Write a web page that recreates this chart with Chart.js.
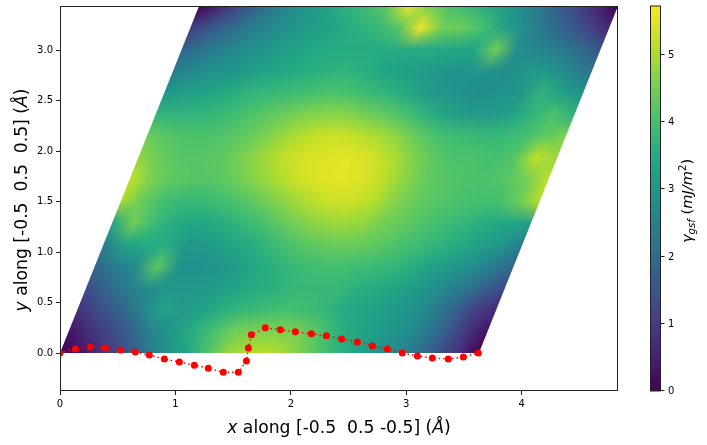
<!DOCTYPE html>
<html>
<head>
<meta charset="utf-8">
<script src="https://cdn.jsdelivr.net/npm/chart.js@4"></script>
<style>
html, body { margin: 0; padding: 0; background: #fff; }
canvas { display: block; }
</style>
</head>
<body>
<canvas id="gsfChart" width="707" height="445"></canvas>
<script>
// path points (x, y in angstrom)
const pathX = [0, 0.133, 0.263, 0.393, 0.523, 0.653, 0.774, 0.904, 1.034, 1.164, 1.285, 1.415, 1.545, 1.615, 1.632, 1.658,
    1.779, 1.909, 2.039, 2.178, 2.308, 2.44, 2.577, 2.707, 2.837, 2.966, 3.097, 3.226, 3.365, 3.495, 3.625];
const pathY = [0, 0.04, 0.06, 0.05, 0.03, 0.01, -0.02, -0.06, -0.09, -0.12, -0.15, -0.19, -0.19, -0.08, 0.05, 0.18,
    0.25, 0.23, 0.21, 0.19, 0.17, 0.14, 0.11, 0.07, 0.04, 0, -0.03, -0.05, -0.06, -0.04, 0];

// cell vectors of the plotted plane
const cellA = 3.63;
const cellBx = 1.205;
const cellBy = 3.436;

// gamma surface, rows go from y=0 up to the top, columns along the a vector
const gammaRows = [
    [0.0, 0.3, 0.9, 1.4, 2.2, 2.9, 3.3, 4.1, 4.8, 5.1, 5.1, 4.8, 4.3, 3.8, 3.4, 3.0, 2.7, 2.2, 1.5, 0.8, 0.0],
    [0.3, 0.8, 1.2, 1.8, 2.6, 3.1, 3.6, 4.1, 4.5, 4.6, 4.6, 4.5, 4.1, 3.6, 3.3, 3.1, 2.9, 2.4, 1.7, 0.9, 0.3],
    [0.8, 1.3, 1.8, 2.5, 3.3, 3.1, 3.3, 3.6, 3.8, 3.9, 4.0, 3.9, 3.7, 3.4, 3.3, 3.1, 2.9, 2.5, 1.8, 1.1, 0.7],
    [1.3, 1.9, 2.4, 2.8, 3.0, 3.0, 3.1, 3.3, 3.5, 3.6, 3.8, 3.8, 3.8, 3.6, 3.5, 3.3, 3.0, 2.7, 2.3, 1.8, 1.3],
    [1.9, 2.4, 2.8, 4.3, 2.9, 2.9, 3.0, 3.2, 3.5, 3.7, 3.9, 4.0, 4.0, 3.9, 3.8, 3.6, 3.3, 3.1, 2.8, 2.4, 1.9],
    [2.4, 3.3, 3.5, 3.5, 3.0, 3.1, 3.3, 3.5, 3.8, 4.1, 4.3, 4.4, 4.4, 4.3, 4.1, 3.9, 3.7, 3.5, 3.2, 3.0, 2.4],
    [3.3, 4.5, 3.9, 3.5, 3.4, 3.5, 3.7, 4.0, 4.3, 4.6, 4.8, 4.9, 4.8, 4.5, 4.3, 4.1, 3.9, 3.7, 3.5, 3.4, 3.2],
    [5.0, 4.4, 4.0, 3.8, 3.8, 4.0, 4.2, 4.5, 4.8, 5.1, 5.3, 5.3, 5.1, 4.7, 4.4, 4.2, 4.1, 4.0, 4.0, 4.4, 5.1],
    [5.2, 4.6, 4.3, 4.2, 4.2, 4.4, 4.7, 5.0, 5.3, 5.45, 5.5, 5.45, 5.2, 4.8, 4.4, 4.2, 4.1, 4.1, 4.2, 4.5, 5.2],
    [4.8, 4.4, 4.2, 4.2, 4.3, 4.6, 4.9, 5.2, 5.4, 5.45, 5.5, 5.4, 5.1, 4.7, 4.3, 4.1, 4.1, 4.0, 4.2, 5.2, 4.8],
    [4.4, 4.2, 4.1, 4.1, 4.2, 4.4, 4.7, 5.0, 5.2, 5.3, 5.2, 5.0, 4.7, 4.3, 4.0, 3.9, 3.8, 3.8, 4.0, 4.3, 4.6],
    [3.7, 3.7, 3.7, 3.8, 4.0, 4.2, 4.4, 4.6, 4.7, 4.7, 4.5, 4.3, 4.0, 3.6, 3.3, 3.1, 3.1, 3.3, 3.7, 4.1, 3.6],
    [3.0, 3.2, 3.3, 3.5, 3.7, 3.8, 3.9, 4.0, 4.1, 4.0, 3.8, 3.6, 3.3, 3.0, 2.9, 2.8, 2.9, 3.0, 3.7, 3.2, 2.9],
    [2.4, 2.7, 2.9, 3.0, 3.2, 3.4, 3.5, 3.6, 3.7, 3.6, 3.4, 3.2, 3.1, 3.0, 2.9, 2.9, 2.8, 3.1, 3.0, 2.6, 2.2],
    [1.8, 2.2, 2.5, 2.8, 3.0, 3.2, 3.4, 3.5, 3.5, 3.5, 3.5, 3.5, 3.5, 3.4, 3.4, 4.5, 2.8, 2.6, 2.4, 2.0, 1.5],
    [1.0, 1.6, 2.0, 2.4, 2.7, 3.0, 3.2, 3.4, 3.6, 3.8, 4.2, 5.6, 4.5, 4.4, 4.0, 3.2, 2.7, 2.2, 1.7, 1.2, 0.6],
    [0.0, 0.6, 1.3, 2.0, 2.5, 2.9, 3.2, 3.6, 3.9, 4.3, 5.6, 4.5, 4.1, 3.8, 3.4, 3.0, 2.5, 1.8, 1.2, 0.6, 0.0]
];

// axes
const xTicks = [0, 1, 2, 3, 4];
const yTicks = [0, 0.5, 1, 1.5, 2, 2.5, 3];
const cbTicks = [0, 1, 2, 3, 4, 5];
const xMax = 4.835, yMin = -0.376, yMax = 3.436, gammaMax = 5.73;

const VIRIDIS = ['#440154', '#482475', '#414487', '#355f8d', '#2a788e', '#21918c', '#22a884', '#44bf70', '#7ad151', '#bddf26', '#fde725'];
const FONT = '"DejaVu Sans"';
const AXIS_COLOR = '#222';

function hexToRgb(hex) {
    return [1, 3, 5].map(i => parseInt(hex.substr(i, 2), 16));
}

function viridisAt(value) {
    const t = Math.min(1, Math.max(0, value / gammaMax)) * (VIRIDIS.length - 1);
    const i = Math.min(VIRIDIS.length - 2, Math.floor(t));
    const a = hexToRgb(VIRIDIS[i]), b = hexToRgb(VIRIDIS[i + 1]);
    return a.map((c, k) => Math.round(c + (b[k] - c) * (t - i)));
}

// one pixel per grid value, stretched over the cell by the browser
function buildSurfaceImage() {
    const rows = gammaRows.length, cols = gammaRows[0].length;
    const off = document.createElement('canvas');
    off.width = cols;
    off.height = rows;
    const octx = off.getContext('2d');
    const img = octx.createImageData(cols, rows);
    gammaRows.forEach((row, r) => {
        row.forEach((v, c) => {
            const rgb = viridisAt(v);
            const p = ((rows - 1 - r) * cols + c) * 4;
            img.data[p] = rgb[0];
            img.data[p + 1] = rgb[1];
            img.data[p + 2] = rgb[2];
            img.data[p + 3] = 255;
        });
    });
    octx.putImageData(img, 0, 0);
    return off;
}

const surfaceImage = buildSurfaceImage();

const surfacePlugin = {
    id: 'surface',
    beforeDatasetsDraw(chart) {
        const { ctx, scales: { x, y } } = chart;
        const px = (dx, dy) => [x.getPixelForValue(dx), y.getPixelForValue(dy)];
        const p0 = px(0, 0), pA = px(cellA, 0), pB = px(cellBx, cellBy), pAB = px(cellA + cellBx, cellBy);
        const rows = gammaRows.length, cols = gammaRows[0].length;

        // pixel vectors of one grid step
        const ux = (pA[0] - p0[0]) / (cols - 1), uy = (pA[1] - p0[1]) / (cols - 1);
        const vx = (pB[0] - p0[0]) / (rows - 1), vy = (pB[1] - p0[1]) / (rows - 1);

        ctx.save();
        ctx.beginPath();
        ctx.moveTo(p0[0], p0[1]);
        ctx.lineTo(pA[0], pA[1]);
        ctx.lineTo(pAB[0], pAB[1]);
        ctx.lineTo(pB[0], pB[1]);
        ctx.closePath();
        ctx.clip();
        ctx.imageSmoothingEnabled = true;
        // image row 0 is the top of the cell, centres of the pixels sit on the grid nodes
        const ox = p0[0] + (rows - 1) * vx - 0.5 * ux + 0.5 * vx;
        const oy = p0[1] + (rows - 1) * vy - 0.5 * uy + 0.5 * vy;
        ctx.transform(ux, uy, -vx, -vy, ox, oy);
        ctx.drawImage(surfaceImage, 0, 0);
        ctx.restore();
    }
};

// text made of pieces with different fonts
function drawRuns(ctx, runs, cx, cy, rotated) {
    ctx.save();
    ctx.translate(cx, cy);
    if (rotated) ctx.rotate(-Math.PI / 2);
    ctx.textAlign = 'left';
    ctx.textBaseline = 'alphabetic';
    ctx.fillStyle = '#000';
    let width = 0;
    runs.forEach(r => {
        ctx.font = r.font;
        width += ctx.measureText(r.text).width;
    });
    let pos = -width / 2;
    runs.forEach(r => {
        ctx.font = r.font;
        ctx.fillText(r.text, pos, r.dy || 0);
        pos += ctx.measureText(r.text).width;
    });
    ctx.restore();
}

const framePlugin = {
    id: 'frame',
    afterDraw(chart) {
        const { ctx, chartArea: area, scales: { cb } } = chart;
        ctx.save();

        // plot frame
        ctx.strokeStyle = AXIS_COLOR;
        ctx.lineWidth = 1;
        ctx.strokeRect(area.left + 0.5, area.top + 0.5, area.right - area.left - 1, area.bottom - area.top - 1);

        // colorbar
        const barLeft = 650.5, barRight = 660.5;
        const y0 = cb.getPixelForValue(0), y1 = cb.getPixelForValue(gammaMax);
        const grad = ctx.createLinearGradient(0, y0, 0, y1);
        VIRIDIS.forEach((c, i) => grad.addColorStop(i / (VIRIDIS.length - 1), c));
        ctx.fillStyle = grad;
        ctx.fillRect(barLeft, y1, barRight - barLeft, y0 - y1);
        ctx.strokeRect(barLeft, y1, barRight - barLeft, y0 - y1);
        ctx.fillStyle = '#000';
        ctx.font = '10px ' + FONT;
        ctx.textAlign = 'left';
        ctx.textBaseline = 'middle';
        cbTicks.forEach(t => {
            const py = Math.round(cb.getPixelForValue(t)) - 0.5;
            ctx.beginPath();
            ctx.moveTo(barRight, py);
            ctx.lineTo(barRight + 4, py);
            ctx.stroke();
            ctx.fillText(String(t), barRight + 7.5, py + 0.5);
        });
        ctx.restore();

        const big = '17.2px ' + FONT, bigIt = 'italic 17.2px ' + FONT;
        drawRuns(ctx, [
            { text: 'x', font: bigIt },
            { text: ' along [-0.5  0.5 -0.5] (', font: big },
            { text: 'Å', font: bigIt },
            { text: ')', font: big }
        ], 339, 433, false);
        drawRuns(ctx, [
            { text: 'y', font: bigIt },
            { text: ' along [-0.5  0.5  0.5] (', font: big },
            { text: 'Å', font: bigIt },
            { text: ')', font: big }
        ], 27, 200, true);
        const med = '14.6px ' + FONT, medIt = 'italic 14.6px ' + FONT, sub = 'italic 10.2px ' + FONT;
        drawRuns(ctx, [
            { text: 'γ', font: medIt },
            { text: 'gsf', font: sub, dy: 3 },
            { text: ' (', font: med },
            { text: 'mJ/m', font: medIt },
            { text: '2', font: '10.2px ' + FONT, dy: -6 },
            { text: ')', font: med }
        ], 692, 201, true);
    }
};

new Chart(document.getElementById('gsfChart'), {
    type: 'scatter',
    data: {
        datasets: [{
            data: pathX.map((x, i) => ({ x, y: pathY[i] })),
            showLine: true,
            borderColor: '#ff0000',
            borderWidth: 1.5,
            borderDash: [1.5, 3],
            backgroundColor: '#ff0000',
            pointRadius: 3.5,
            pointBorderWidth: 0,
            clip: 0
        }]
    },
    options: {
        responsive: false,
        animation: false,
        layout: { padding: { top: 6, right: 89, left: 0, bottom: 0 } },
        plugins: { legend: { display: false }, tooltip: { enabled: false } },
        scales: {
            x: {
                type: 'linear',
                min: 0,
                max: xMax,
                afterBuildTicks: scale => { scale.ticks = xTicks.map(value => ({ value })); },
                afterFit: scale => { scale.height = 54; scale.paddingLeft = 0; scale.paddingRight = 0; },
                grid: { drawOnChartArea: false, tickLength: 4, color: AXIS_COLOR, tickColor: AXIS_COLOR },
                border: { display: false },
                ticks: { color: '#000', font: { family: FONT, size: 10 }, padding: 3, maxRotation: 0, callback: v => String(v) }
            },
            y: {
                type: 'linear',
                min: yMin,
                max: yMax,
                afterBuildTicks: scale => { scale.ticks = yTicks.map(value => ({ value })); },
                afterFit: scale => { scale.width = 60; scale.paddingTop = 0; scale.paddingBottom = 0; },
                grid: { drawOnChartArea: false, tickLength: 4, color: AXIS_COLOR, tickColor: AXIS_COLOR },
                border: { display: false },
                ticks: { color: '#000', font: { family: FONT, size: 10 }, padding: 3, callback: v => v.toFixed(1) }
            },
            cb: {
                type: 'linear',
                display: false,
                position: 'right',
                min: 0,
                max: gammaMax
            }
        }
    },
    plugins: [surfacePlugin, framePlugin]
});
</script>
</body>
</html>
